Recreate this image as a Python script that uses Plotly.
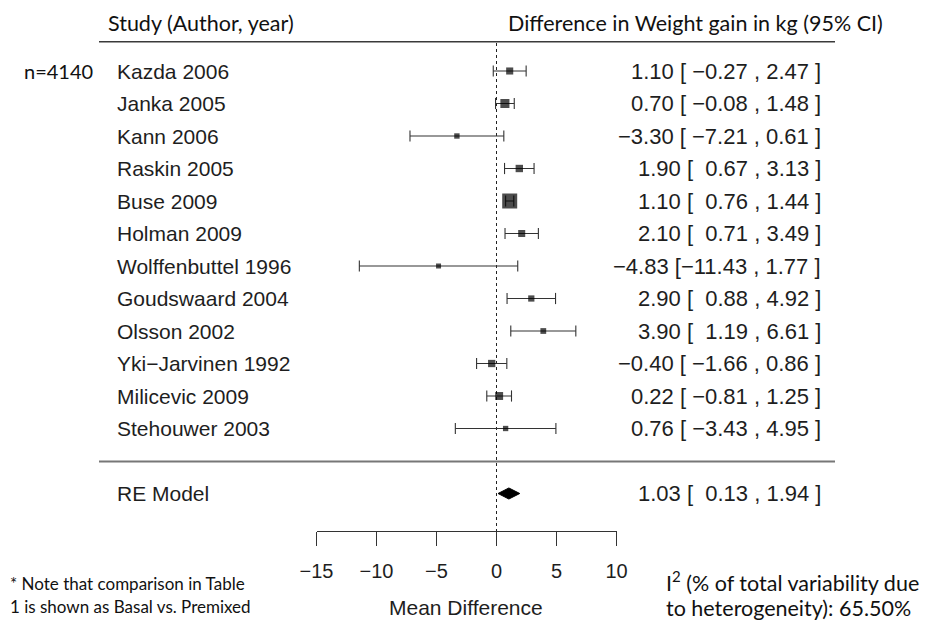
import plotly.graph_objects as go

studies = ["Kazda 2006", "Janka 2005", "Kann 2006", "Raskin 2005", "Buse 2009",
           "Holman 2009", "Wolffenbuttel 1996", "Goudswaard 2004", "Olsson 2002",
           "Yki\u2212Jarvinen 1992", "Milicevic 2009", "Stehouwer 2003"]
est = [1.10, 0.70, -3.30, 1.90, 1.10, 2.10, -4.83, 2.90, 3.90, -0.40, 0.22, 0.76]
lower = [-0.27, -0.08, -7.21, 0.67, 0.76, 0.71, -11.43, 0.88, 1.19, -1.66, -0.81, -3.43]
upper = [2.47, 1.48, 0.61, 3.13, 1.44, 3.49, 1.77, 4.92, 6.61, 0.86, 1.25, 4.95]
re_label = "RE Model"
re_est, re_lower, re_upper = 1.03, 0.13, 1.94
tick_vals = [-15, -10, -5, 0, 5, 10]
tick_text = ["\u221215", "\u221210", "\u22125", "0", "5", "10"]

W, H = 939, 633
ROW0, ROWH = 71.0, 32.5
def row_of(px):
    return (px - ROW0) / ROWH
def ypaper(px):
    return 1 - px / H

rows = list(range(len(studies)))
re_row = len(studies) + 1

# box sizes as in metafor (proportional to 1/SE)
se = [(u - l) / (2 * 1.96) for l, u in zip(lower, upper)]
wi = [1 / s for s in se]
mn, mx = min(wi), max(wi)
psize = [10 * (0.5 + (w - mn) / (mx - mn)) for w in wi]

def fmt(v):
    return f"{v:.2f}".replace("-", "\u2212")
def ci_text(e, l, u):
    return f"{fmt(e)} [{fmt(l).rjust(6, chr(160))} , {fmt(u).rjust(4, chr(160))} ]"

fig = go.Figure()
# confidence interval segments
seg_x, seg_y = [], []
for r, l, u in zip(rows, lower, upper):
    seg_x += [l, u, None]
    seg_y += [r, r, None]
fig.add_trace(go.Scatter(
    x=seg_x, y=seg_y, mode="lines", line=dict(color="#333333", width=1.1),
    cliponaxis=False, hoverinfo="skip", showlegend=False))
# end caps
fig.add_trace(go.Scatter(
    x=lower + upper, y=rows + rows, mode="markers",
    marker=dict(symbol="line-ns", size=8, color="#333333",
                line=dict(color="#333333", width=1.1)),
    cliponaxis=False, hoverinfo="skip", showlegend=False))
# weighted boxes on top
fig.add_trace(go.Scatter(
    x=est, y=rows, mode="markers",
    marker=dict(symbol="square", size=psize, color="black", line=dict(width=0)),
    cliponaxis=False, hoverinfo="skip", showlegend=False))

dh = 0.17
fig.add_trace(go.Scatter(
    x=[re_lower, re_est, re_upper, re_est, re_lower],
    y=[re_row, re_row - dh, re_row, re_row + dh, re_row],
    mode="lines", fill="toself", fillcolor="black",
    line=dict(color="black", width=1), cliponaxis=False,
    hoverinfo="skip", showlegend=False))

shapes = [
    dict(type="line", xref="x", yref="y", x0=0, x1=0, y0=row_of(43), y1=row_of(531),
         line=dict(color="#222222", width=1, dash="dot"), layer="below"),
    dict(type="line", xref="paper", yref="y", x0=99 / W, x1=835 / W,
         y0=row_of(41.7), y1=row_of(41.7), line=dict(color="#3a3a3a", width=1.6)),
    dict(type="line", xref="paper", yref="y", x0=99 / W, x1=835 / W,
         y0=row_of(461.5), y1=row_of(461.5), line=dict(color="#777777", width=2)),
]

ann = []
rfont = dict(family="Liberation Sans, Arial", size=21, color="#1e1e1e")
efont = dict(family="Liberation Sans, Arial", size=22, color="#1e1e1e")
for r, s, e, l, u in zip(rows, studies, est, lower, upper):
    ann.append(dict(x=115 / W, y=r, xref="paper", yref="y", text=s, showarrow=False,
                    xanchor="left", yanchor="middle", font=rfont))
    ann.append(dict(x=823 / W, y=r, xref="paper", yref="y", text=ci_text(e, l, u),
                    showarrow=False, xanchor="right", yanchor="middle", font=efont))
ann.append(dict(x=115 / W, y=re_row, xref="paper", yref="y", text=re_label, showarrow=False,
                xanchor="left", yanchor="middle", font=rfont))
ann.append(dict(x=823 / W, y=re_row, xref="paper", yref="y",
                text=ci_text(re_est, re_lower, re_upper),
                showarrow=False, xanchor="right", yanchor="middle", font=efont))
ann.append(dict(x=466 / W, y=ypaper(607), xref="paper", yref="paper", text="Mean Difference",
                showarrow=False, xanchor="center", yanchor="middle", font=rfont))

cfont = dict(family="Lato", size=21.5, color="#111111")
ann.append(dict(x=106 / W, y=ypaper(23), xref="paper", yref="paper",
                text="Study (Author, year)", showarrow=False, xanchor="left",
                yanchor="middle", font=cfont))
ann.append(dict(x=506 / W, y=ypaper(23), xref="paper", yref="paper",
                text="Difference in Weight gain in kg (95% CI)", showarrow=False,
                xanchor="left", yanchor="middle", font=cfont))
ann.append(dict(x=22 / W, y=ypaper(71), xref="paper", yref="paper",
                text="n=4140", showarrow=False, xanchor="left",
                yanchor="middle", font=dict(family="Lato", size=20, color="#111111")))
nfont = dict(family="Lato", size=17, color="#111111")
ann.append(dict(x=8 / W, y=ypaper(583), xref="paper", yref="paper",
                text="* Note that comparison in Table", showarrow=False, xanchor="left",
                yanchor="middle", font=nfont))
ann.append(dict(x=8 / W, y=ypaper(606), xref="paper", yref="paper",
                text="1 is shown as Basal vs. Premixed", showarrow=False, xanchor="left",
                yanchor="middle", font=nfont))
ifont = dict(family="Lato", size=21.5, color="#111111")
ann.append(dict(x=664 / W, y=ypaper(581), xref="paper", yref="paper",
                text="I<sup>2</sup> (% of total variability due", showarrow=False,
                xanchor="left", yanchor="middle", font=ifont))
ann.append(dict(x=664 / W, y=ypaper(608), xref="paper", yref="paper",
                text="to heterogeneity): 65.50%", showarrow=False,
                xanchor="left", yanchor="middle", font=ifont))

fig.update_layout(
    width=W, height=H, margin=dict(l=0, r=0, t=0, b=0, pad=0, autoexpand=False),
    paper_bgcolor="white", plot_bgcolor="rgba(0,0,0,0)",
    shapes=shapes, annotations=ann,
    xaxis=dict(domain=[316.5 / W, 616.5 / W], range=[-15, 10], anchor="free",
               position=ypaper(531), showline=True, linecolor="#333333", linewidth=1.2,
               ticks="outside", ticklen=14, tickwidth=1.2, tickcolor="#333333",
               tickvals=tick_vals, ticktext=tick_text, showgrid=False, zeroline=False,
               tickfont=dict(family="Liberation Sans, Arial", size=20, color="#1e1e1e"),
               ticklabelstandoff=8, automargin=False),
    yaxis=dict(domain=[0, 1], range=[row_of(H), row_of(0)], visible=False,
               showgrid=False, zeroline=False, automargin=False),
)
fig.write_html("out.html", config={"displayModeBar": False},
               post_script="document.body.style.margin='0px';"
                           "document.body.style.overflow='hidden';")
